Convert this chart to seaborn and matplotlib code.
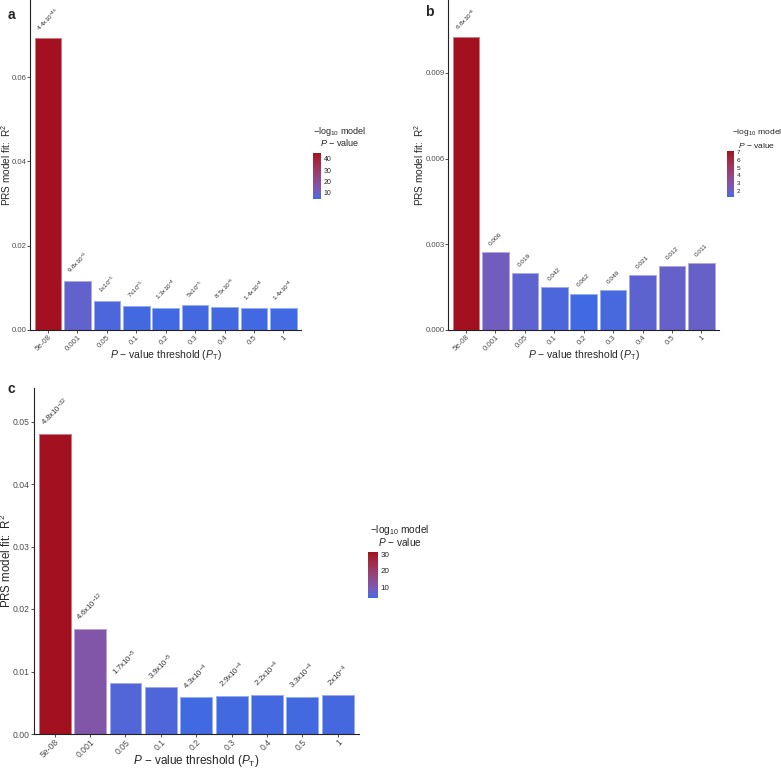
import numpy as np
import matplotlib
matplotlib.use("Agg")
import matplotlib.pyplot as plt
import seaborn as sns
from matplotlib.colors import ListedColormap, Normalize, to_rgb
from matplotlib.cm import ScalarMappable

sns.set_style("ticks")
plt.rcParams['font.family'] = ['Liberation Sans', 'DejaVu Sans']
plt.rcParams['mathtext.fontset'] = 'custom'
plt.rcParams['mathtext.rm'] = 'Liberation Sans'
plt.rcParams['mathtext.it'] = 'Liberation Sans:italic'
plt.rcParams['mathtext.bf'] = 'Liberation Sans:bold'

# ---------------- data ----------------
thresholds = ["5e-08", "0.001", "0.05", "0.1", "0.2", "0.3", "0.4", "0.5", "1"]

r2_a = [0.0692, 0.0117, 0.00695, 0.0057, 0.0053, 0.00586, 0.0055, 0.0052, 0.0052]
p_a = [4.4e-46, 9.8e-9, 1e-5, 7e-5, 1.3e-4, 5e-5, 8.5e-5, 1.4e-4, 1.4e-4]
lab_a = ["4.4x10$^{-46}$", "9.8x10$^{-9}$", "1x10$^{-5}$", "7x10$^{-5}$", "1.3x10$^{-4}$",
         "5x10$^{-5}$", "8.5x10$^{-5}$", "1.4x10$^{-4}$", "1.4x10$^{-4}$"]
ticks_a = [0.00, 0.02, 0.04, 0.06]

r2_b = [0.01025, 0.00272, 0.0020, 0.00149, 0.00127, 0.0014, 0.00191, 0.00224, 0.00233]
p_b = [6.8e-8, 0.006, 0.019, 0.042, 0.062, 0.049, 0.021, 0.012, 0.011]
lab_b = ["6.8x10$^{-8}$", "0.006", "0.019", "0.042", "0.062", "0.049", "0.021", "0.012", "0.011"]
ticks_b = [0.000, 0.003, 0.006, 0.009]

r2_c = [0.0480, 0.0168, 0.0081, 0.0075, 0.0059, 0.0061, 0.0063, 0.0060, 0.0063]
p_c = [4.8e-32, 4.6e-12, 1.7e-5, 3.9e-5, 4.3e-4, 2.9e-4, 2.2e-4, 3.3e-4, 2e-4]
lab_c = ["4.8x10$^{-32}$", "4.6x10$^{-12}$", "1.7x10$^{-5}$", "3.9x10$^{-5}$", "4.3x10$^{-4}$",
         "2.9x10$^{-4}$", "2.2x10$^{-4}$", "3.3x10$^{-4}$", "2x10$^{-4}$"]
ticks_c = [0.00, 0.01, 0.02, 0.03, 0.04, 0.05]

# ---------------- colour ramp (CIELAB, like ggplot) ----------------
def _lin(c):
    c = np.asarray(c)
    return np.where(c <= 0.04045, c / 12.92, ((c + 0.055) / 1.055) ** 2.4)

def _gam(c):
    c = np.clip(c, 0, 1)
    return np.where(c <= 0.0031308, 12.92 * c, 1.055 * c ** (1 / 2.4) - 0.055)

M = np.array([[0.4124, 0.3576, 0.1805], [0.2126, 0.7152, 0.0722], [0.0193, 0.1192, 0.9505]])
WHITE = np.array([0.95047, 1.0, 1.08883])

def rgb2lab(rgb):
    xyz = M @ _lin(rgb) / WHITE
    f = np.where(xyz > 0.008856, np.cbrt(xyz), 7.787 * xyz + 16 / 116)
    return np.array([116 * f[1] - 16, 500 * (f[0] - f[1]), 200 * (f[1] - f[2])])

def lab2rgb(lab):
    fy = (lab[0] + 16) / 116
    fx = fy + lab[1] / 500
    fz = fy - lab[2] / 200
    f = np.array([fx, fy, fz])
    xyz = np.where(f ** 3 > 0.008856, f ** 3, (f - 16 / 116) / 7.787) * WHITE
    return _gam(np.linalg.solve(M, xyz))

low_lab = rgb2lab(to_rgb("#4169E1"))
high_lab = rgb2lab(to_rgb("#A3101F"))
ramp = [lab2rgb(low_lab + t * (high_lab - low_lab)) for t in np.linspace(0, 1, 256)]
cmap = ListedColormap(ramp)

W, H = 781, 768
fig = plt.figure(figsize=(W / 100, H / 100), dpi=100)

def px_axes(l, t, r, b):
    return fig.add_axes([l / W, 1 - b / H, (r - l) / W, (b - t) / H])

def panel(box, r2, pv, labels, ticks, ytop, cbox, cticks, title_xy, letter, letter_xy,
          ylab_x, xlab_y, fs_tick, fs_lab, fs_bar, fs_leg, fs_ylab):
    ax = px_axes(*box)
    score = -np.log10(np.array(pv))
    norm = Normalize(score.min(), score.max())
    cols = [cmap(norm(s)) for s in score]
    pal = dict(zip(thresholds, cols))
    sns.barplot(x=thresholds, y=r2, hue=thresholds, palette=pal, legend=False,
                saturation=1, width=0.9, ax=ax, order=thresholds)
    for patch, c in zip(ax.patches, cols):
        ec = 0.55 * np.array(c[:3]) + 0.45
        patch.set_edgecolor(ec)
        patch.set_linewidth(0.7)
    for i, (v, t) in enumerate(zip(r2, labels)):
        ax.annotate(t, (i, v), xytext=(0, 4), textcoords="offset points",
                    ha="center", va="bottom", rotation=45, fontsize=fs_bar, color="#303030")
    ax.set_xlim(-0.6, 8.6)
    ax.set_ylim(0, ytop)
    ax.set_yticks(ticks)
    dec = 3 if ticks[1] < 0.005 else 2
    ax.set_yticklabels([f"{t:.{dec}f}" for t in ticks])
    ax.tick_params(axis="both", labelsize=fs_tick, colors="#333333", labelcolor="#4D4D4D",
                   length=2, width=0.6, pad=0.8)
    plt.setp(ax.get_xticklabels(), rotation=45, ha="right", va="top", rotation_mode="anchor")
    ax.set_xlabel(r"$P$ $-$ value threshold $(P_{\mathrm{T}})$", fontsize=fs_lab)
    ax.set_ylabel(r"PRS model fit:  R$^2$", fontsize=fs_ylab)
    ax.yaxis.set_label_coords(ylab_x / W, 1 - (box[1] + box[3]) / 2 / H, transform=fig.transFigure)
    ax.yaxis.label.set_va("center")
    ax.xaxis.set_label_coords((box[0] + box[2]) / 2 / W, 1 - xlab_y / H, transform=fig.transFigure)
    ax.xaxis.label.set_va("center")
    sns.despine(ax=ax)
    for s in ("left", "bottom"):
        ax.spines[s].set_linewidth(0.8)
        ax.spines[s].set_color("#222222")
    # colourbar legend
    cax = px_axes(*cbox)
    sm = ScalarMappable(norm=norm, cmap=cmap)
    cb = fig.colorbar(sm, cax=cax)
    cb.outline.set_visible(False)
    cb.set_ticks(cticks)
    cax.tick_params(labelsize=fs_leg, length=2, width=0.5, color="white",
                    direction="in", pad=2, labelcolor="#222222")
    tx, ty = title_xy
    fig.text(tx / W, 1 - ty / H, r"$-\mathrm{log}_{10}$ model", ha="center", va="center",
             fontsize=fs_leg + 1.5)
    fig.text(tx / W, 1 - (ty + 12) / H, r"$P$ $-$ value", ha="center", va="center",
             fontsize=fs_leg + 1.5)
    fig.text(letter_xy[0] / W, 1 - letter_xy[1] / H, letter, fontsize=10, fontweight="bold",
             ha="left", va="center")
    return ax

panel((30.4, 0, 301, 330), r2_a, p_a, lab_a, ticks_a, 0.0783,
      (313, 153, 321, 199), [10, 20, 30, 40], (340, 131), "a", (8, 15),
      5.8, 355, 5.6, 7.5, 4.6, 5.0, 7.2)
panel((448.4, 0, 719, 330), r2_b, p_b, lab_b, ticks_b, 0.01155,
      (727, 151, 734, 197), [2, 3, 4, 5, 6, 7], (757, 133), "b", (425, 12),
      419, 355, 5.6, 7.5, 4.6, 4.6, 7.2)
panel((33.5, 388, 359, 734), r2_c, p_c, lab_c, ticks_c, 0.05536,
      (368, 552, 378, 598), [10, 20, 30], (400, 530), "c", (8, 389),
      6.5, 761, 6.2, 8.5, 5.6, 5.8, 8.3)

fig.savefig("out.png", dpi=100, facecolor="white")
